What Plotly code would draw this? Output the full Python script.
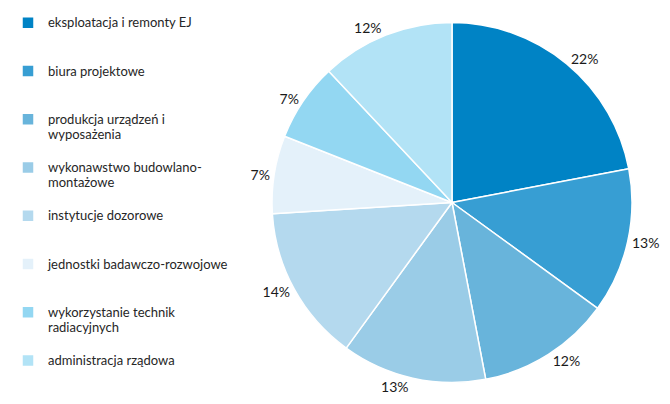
import plotly.graph_objects as go

categories = [
    "eksploatacja i remonty EJ",
    "biura projektowe",
    "produkcja urządzeń i<br>wyposażenia",
    "wykonawstwo budowlano-<br>montażowe",
    "instytucje dozorowe",
    "jednostki badawczo-rozwojowe",
    "wykorzystanie technik<br>radiacyjnych",
    "administracja rządowa",
]
values = [22, 13, 12, 13, 14, 7, 7, 12]
colors = ["#0083C5", "#379ED3", "#68B4DB", "#9ACCE7",
          "#B4D9EE", "#E4F1FA", "#93D7F2", "#B2E3F6"]

# pad every legend label to 3 lines so entries are evenly spaced
def pad(label):
    n = label.count("<br>") + 1
    return "<span style='font-size:13px'>" + label + "</span>" + "<br>\u00a0" * (3 - n)

labels = [pad(c) for c in categories]

fig = go.Figure(go.Pie(
    labels=labels,
    values=values,
    sort=False,
    direction="clockwise",
    rotation=0,
    automargin=False,
    marker=dict(colors=colors, line=dict(color="white", width=1.5)),
    texttemplate="%{value}%",
    textposition="outside",
    outsidetextfont=dict(family="Lato", size=14, color="#1a1a1a"),
    hoverinfo="label+value",
    domain=dict(x=[264 / 670, 624 / 670], y=[1 - 374.5 / 404, 1 - 14.5 / 404]),
))

fig.update_layout(
    width=670, height=404,
    margin=dict(l=0, r=0, t=0, b=0, autoexpand=False),
    paper_bgcolor="white",
    font=dict(family="Lato", color="#262626"),
    showlegend=True,
    legend=dict(
        x=0, y=0.998, xanchor="left", yanchor="top",
        font=dict(family="Lato", size=11.6, color="#262626"),
        valign="top",
        bgcolor="rgba(0,0,0,0)",
    ),
)

fig.write_html("out.html")
